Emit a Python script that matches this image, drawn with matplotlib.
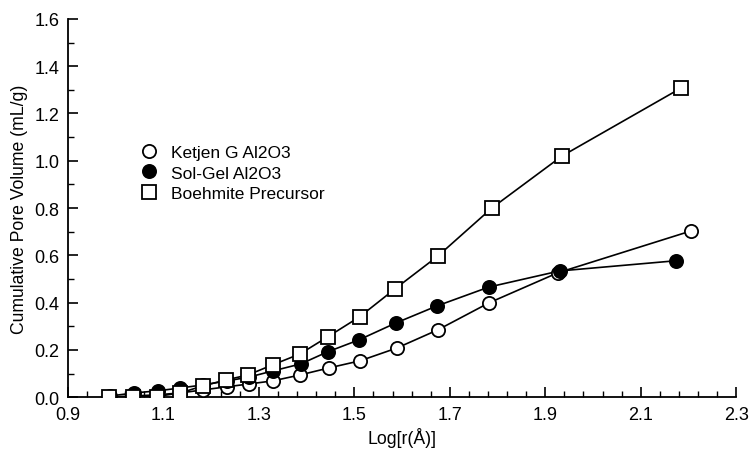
import matplotlib
matplotlib.use("Agg")
import matplotlib.pyplot as plt
import numpy as np
from matplotlib.lines import Line2D

plt.rcParams['font.family'] = ['Liberation Sans', 'DejaVu Sans']

# Data
ketjen_x = [0.986, 1.036, 1.086, 1.135, 1.183, 1.233, 1.279, 1.329, 1.386, 1.447, 1.512, 1.589, 1.675, 1.782, 1.926, 2.205]
ketjen_y = [0.001, 0.005, 0.010, 0.018, 0.031, 0.044, 0.056, 0.069, 0.094, 0.124, 0.154, 0.208, 0.285, 0.399, 0.526, 0.703]

solgel_x = [0.988, 1.038, 1.088, 1.135, 1.183, 1.233, 1.279, 1.329, 1.388, 1.444, 1.509, 1.587, 1.673, 1.782, 1.930, 2.173]
solgel_y = [0.005, 0.018, 0.027, 0.039, 0.052, 0.069, 0.085, 0.111, 0.141, 0.192, 0.242, 0.314, 0.386, 0.466, 0.534, 0.577]

boeh_x = [0.986, 1.036, 1.086, 1.135, 1.183, 1.231, 1.277, 1.329, 1.386, 1.444, 1.511, 1.585, 1.675, 1.788, 1.935, 2.184]
boeh_y = [0.000, 0.000, 0.003, 0.018, 0.048, 0.073, 0.094, 0.137, 0.183, 0.255, 0.340, 0.458, 0.597, 0.800, 1.020, 1.307]

labels = ["Ketjen G Al2O3", "Sol-Gel Al2O3", "Boehmite Precursor"]
x_ticks = [0.9, 1.1, 1.3, 1.5, 1.7, 1.9, 2.1, 2.3]
y_ticks = [0.0, 0.2, 0.4, 0.6, 0.8, 1.0, 1.2, 1.4, 1.6]

fig = plt.figure(figsize=(7.52, 4.52), dpi=100)
ax = fig.add_axes([0.0904, 0.119, 0.8886, 0.837])

lw = 1.2
ms = 9.5
mew = 1.3

ax.plot(ketjen_x, ketjen_y, color='black', lw=lw, zorder=2)
ax.plot(ketjen_x, ketjen_y, ls='none', marker='o', ms=ms, mfc='white', mec='black', mew=mew, zorder=3)
ax.plot(solgel_x, solgel_y, color='black', lw=lw, zorder=2)
ax.plot(solgel_x, solgel_y, ls='none', marker='o', ms=ms, mfc='black', mec='black', mew=mew, zorder=4)
ax.plot(boeh_x, boeh_y, color='black', lw=lw, zorder=2)
ax.plot(boeh_x, boeh_y, ls='none', marker='s', ms=ms, mfc='white', mec='black', mew=mew, zorder=5)

ax.set_xlim(0.9, 2.3)
ax.set_ylim(0.0, 1.6)

for s in ['top', 'right']:
    ax.spines[s].set_visible(False)
for s in ['left', 'bottom']:
    ax.spines[s].set_linewidth(1.3)

ax.set_xticks(x_ticks)
ax.set_xticklabels([f"{v:.1f}" for v in x_ticks])
ax.set_xticks(np.arange(0.9, 2.3001, 0.04), minor=True)
ax.set_yticks(y_ticks)
ax.set_yticklabels([f"{v:.1f}" for v in y_ticks])
ax.set_yticks(np.arange(0.1, 1.6, 0.2), minor=True)
ax.tick_params(which='major', direction='in', length=7, width=1.2, labelsize=13, pad=6)
ax.tick_params(which='minor', direction='in', length=4, width=1.0)

ax.set_xlabel("Log[r(Å)]", fontsize=12.7, labelpad=3)
ax.set_ylabel("Cumulative Pore Volume (mL/g)", fontsize=12.7, labelpad=5)

handles = [
    Line2D([], [], ls='none', marker='o', ms=ms, mfc='white', mec='black', mew=mew),
    Line2D([], [], ls='none', marker='o', ms=ms, mfc='black', mec='black', mew=mew),
    Line2D([], [], ls='none', marker='s', ms=ms, mfc='white', mec='black', mew=mew),
]
ax.legend(handles, labels, loc='upper left', bbox_to_anchor=(0.095, 0.685), frameon=False,
          fontsize=12.5, handletextpad=0.65, labelspacing=0.3, handlelength=1.2, borderaxespad=0)

fig.savefig("out.png", dpi=100)
